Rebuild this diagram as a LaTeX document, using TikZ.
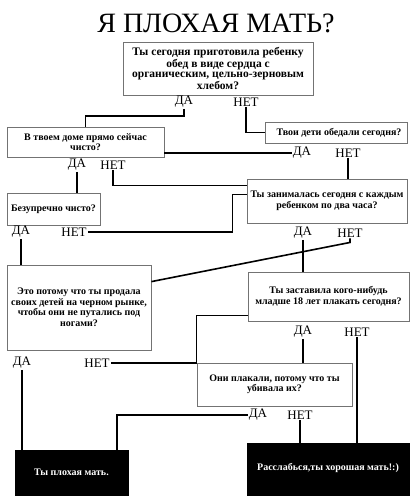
\documentclass[tikz,border=0pt]{standalone}
\usepackage{fontspec}
\setmainfont{Liberation Serif}
\begin{document}
\begin{tikzpicture}[x=1pt,y=-1pt,
  qbox/.style={draw=black!55,line width=0.8pt,fill=white,inner sep=0pt,align=center,
    font=\bfseries\fontsize{10}{10.5}\selectfont},
  endbox/.style={draw=black,fill=black,text=white,inner sep=0pt,align=center,
    font=\bfseries\fontsize{10}{10.5}\selectfont},
  ans/.style={inner sep=1pt,font=\fontsize{13}{13}\selectfont},
  conn/.style={line width=1.6pt,line join=miter}]
\useasboundingbox (0,0) rectangle (411,500);
\fill[white] (0,0) rectangle (411,500);
\node[font=\fontsize{28}{28}\selectfont] (title) at (216,23) {Я ПЛОХАЯ МАТЬ?};
% boxes
\node[qbox,minimum width=190pt,minimum height=53pt,font=\bfseries\fontsize{11.5}{10.5}\selectfont] (b1) at (218,68.5)
  {Ты сегодня приготовила ребенку\\обед в виде сердца с\\органическим, цельно-зерновым\\хлебом?};
\node[qbox,minimum width=157pt,minimum height=30pt] (b2) at (85.5,142) {В твоем доме прямо сейчас\\чисто?};
\node[qbox,minimum width=142pt,minimum height=21pt] (b3) at (336,132.5) {\hspace*{6pt}Твои дети обедали сегодня?};
\node[qbox,minimum width=93pt,minimum height=32pt] (b4) at (53.5,209) {Безупречно чисто?};
\node[qbox,minimum width=160pt,minimum height=44pt] (b5) at (327,201) {Ты занималась сегодня с каждым\\ребенком по два часа?};
\node[qbox,minimum width=144pt,minimum height=85pt] (b6) at (79,307.5) {Это потому что ты продала\\своих детей на черном рынке,\\чтобы они не путались под\\ногами?};
\node[qbox,minimum width=161pt,minimum height=49pt] (b7) at (328.5,296.5) {Ты заставила кого-нибудь\\младше 18 лет плакать сегодня?};
\node[qbox,minimum width=155pt,minimum height=43pt] (b9) at (274.5,384.5) {Они плакали, потому что ты\\убивала их?};
\node[endbox,minimum width=113pt,minimum height=45pt] (b8) at (71.5,472.5) {Ты плохая мать.};
\node[endbox,minimum width=162pt,minimum height=52pt] (b10) at (328,469) {\raisebox{5pt}{Расслабься,ты хорошая мать!:)}};
% answers
\node[ans] (da1) at (184,102) {ДА};   \node[ans] (net1) at (246,102) {НЕТ};
\node[ans] (da2) at (77,165) {ДА};    \node[ans] (net2) at (113,165) {НЕТ};
\node[ans] (da3) at (302,153) {ДА};   \node[ans] (net3) at (348,153) {НЕТ};
\node[ans] (da4) at (21,232) {ДА};    \node[ans] (net4) at (74,232) {НЕТ};
\node[ans] (da5) at (303,233) {ДА};   \node[ans] (net5) at (350,233) {НЕТ};
\node[ans] (da6) at (22,363) {ДА};    \node[ans] (net6) at (97,363) {НЕТ};
\node[ans] (da7) at (303,332) {ДА};   \node[ans] (net7) at (357,332) {НЕТ};
\node[ans] (da9) at (258,415) {ДА};   \node[ans] (net9) at (300,415) {НЕТ};
% connectors
\draw[conn] (da1.south) -- ++(0,7) -| (b2.north);
\draw[conn] (net1.south) |- (b3.west);
\draw[conn] (b2.east |- da3.west) -- (da3.west);
\draw[conn] (net3.south) -- (net3.south |- b5.north);
\draw[conn] (da2.south) -- (da2.south |- b4.north);
\draw[conn] (net2.south) |- ([yshift=-7pt]b5.north west);
\draw[conn] (net4.east) -| ([xshift=-14pt,yshift=-16pt]b5.north west) -- ([yshift=-16pt]b5.north west);
\draw[conn] (da4.south) -- (da4.south |- b6.north);
\draw[conn] (da5.south) -- (da5.south |- b7.north);
\draw[conn] (net5.south) -- ++(0,4) -- ([yshift=-17pt]b6.north east);
\draw[conn] ([yshift=6pt]b7.south west) -- ++(-51,0) |- (net6.east);
\draw[conn] (da6.south) -- (da6.south |- b8.north);
\draw[conn] (da7.south) -- (da7.south |- b9.north);
\draw[conn] (net7.south) -- (net7.south |- b10.north);
\draw[conn] (da9.west) -| ([xshift=-11pt]b8.north east);
\draw[conn] (net9.south) -- (net9.south |- b10.north);
\end{tikzpicture}
\end{document}
